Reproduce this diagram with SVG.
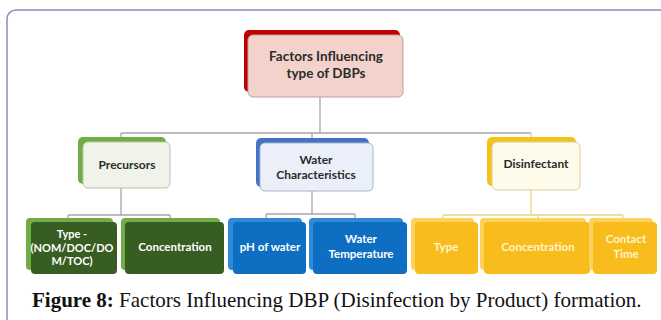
<svg xmlns="http://www.w3.org/2000/svg" width="661" height="320" viewBox="0 0 661 320">
<style>
.t{font-family:Lato,"Open Sans","Liberation Sans",sans-serif;font-weight:bold;text-anchor:middle}
.d{fill:#2b2b2b}
.w{fill:#fff}
.y{fill:#fff4cf}
.c{fill:none;stroke:#a6a6a6;stroke-width:1.3}
.cy{fill:none;stroke:#e6d38a;stroke-width:1.3}
.cap{font-family:"Liberation Serif","Times New Roman",serif;font-size:21px;fill:#111}
</style>
<rect x="0" y="0" width="661" height="320" fill="#fff"/>
<rect x="7" y="10" width="720" height="400" rx="9" fill="none" stroke="#8b8bbd" stroke-width="1.5"/>
<g id="connectors">
<path class="c" d="M320 97V133M121 133H531M121 133V137M312 133V143"/>
<path class="cy" d="M531 133V137"/>
<path class="c" d="M121 188V215M68 215H170M68 215V220M170 215V220"/>
<path class="c" d="M312 191V214M266 214H355M266 214V220M355 214V220"/>
<path class="cy" d="M531 190V215M443 215H623M443 215V220M538 215V220M623 215V220"/>
</g>
<g id="root">
<rect x="244" y="30" width="156" height="62" rx="5" fill="#c00000"/>
<rect x="248" y="35" width="155" height="62" rx="5" fill="#f4d2cc" stroke="#b8a0a0" stroke-width="1"/>
<text class="t d" font-size="13.5" x="326" y="61">Factors Influencing</text>
<text class="t d" font-size="13.5" x="326" y="78">type of DBPs</text>
</g>
<g id="precursors">
<rect x="78" y="137" width="88" height="47" rx="5" fill="#70ad47"/>
<rect x="83" y="142" width="87" height="46" rx="5" fill="#eff3ea" stroke="#b7c4ae" stroke-width="1"/>
<text class="t d" font-size="12" x="127" y="169">Precursors</text>
</g>
<g id="water">
<rect x="256" y="138" width="113" height="49" rx="5" fill="#4472c4"/>
<rect x="260" y="143" width="113" height="48" rx="5" fill="#eaeff9" stroke="#aab4c8" stroke-width="1"/>
<text class="t d" font-size="12" x="316" y="164">Water</text>
<text class="t d" font-size="12" x="316" y="179">Characteristics</text>
</g>
<g id="disinfectant">
<rect x="487" y="137" width="89" height="49" rx="5" fill="#f5c21a"/>
<rect x="492" y="142" width="88" height="48" rx="5" fill="#fffbea" stroke="#d9cf9a" stroke-width="1"/>
<text class="t d" font-size="12" x="536" y="168">Disinfectant</text>
</g>
<g id="type-nom">
<rect x="26" y="218" width="87" height="52" rx="4" fill="#70ad47"/>
<rect x="31" y="222" width="86" height="52" rx="4" fill="#385d22"/>
<text class="t w" font-size="11" x="72" y="238">Type -</text>
<text class="t w" font-size="11" x="72" y="252">(NOM/DOC/DO</text>
<text class="t w" font-size="11" x="72" y="265">M/TOC)</text>
</g>
<g id="conc-green">
<rect x="121" y="218" width="99" height="52" rx="4" fill="#70ad47"/>
<rect x="125" y="222" width="99" height="52" rx="4" fill="#385d22"/>
<text class="t w" font-size="11.5" x="175" y="251">Concentration</text>
</g>
<g id="ph">
<rect x="228" y="218" width="74" height="52" rx="4" fill="#2e8ad8"/>
<rect x="233" y="222" width="73" height="52" rx="4" fill="#0e6fc2"/>
<text class="t w" font-size="11.5" x="270" y="251">pH of water</text>
</g>
<g id="water-temp">
<rect x="309" y="218" width="94" height="52" rx="4" fill="#2e8ad8"/>
<rect x="313" y="222" width="94" height="52" rx="4" fill="#0e6fc2"/>
<text class="t w" font-size="11.5" x="361" y="243">Water</text>
<text class="t w" font-size="11.5" x="361" y="258">Temperature</text>
</g>
<g id="type-yellow">
<rect x="411" y="218" width="63" height="52" rx="4" fill="#fcd25c"/>
<rect x="415" y="222" width="63" height="52" rx="4" fill="#f8bd1c"/>
<text class="t y" font-size="11.5" x="446" y="251">Type</text>
</g>
<g id="conc-yellow">
<rect x="480" y="218" width="106" height="52" rx="4" fill="#fcd25c"/>
<rect x="484" y="222" width="106" height="52" rx="4" fill="#f8bd1c"/>
<text class="t y" font-size="11.5" x="538" y="251">Concentration</text>
</g>
<g id="contact">
<rect x="589" y="218" width="64" height="52" rx="4" fill="#fcd25c"/>
<rect x="593" y="222" width="64" height="52" rx="4" fill="#f8bd1c"/>
<text class="t y" font-size="11.5" x="626" y="243">Contact</text>
<text class="t y" font-size="11.5" x="626" y="258">Time</text>
</g>
<text class="cap" x="32" y="307"><tspan font-weight="bold">Figure 8:</tspan> Factors Influencing DBP (Disinfection by Product) formation.</text>
</svg>
